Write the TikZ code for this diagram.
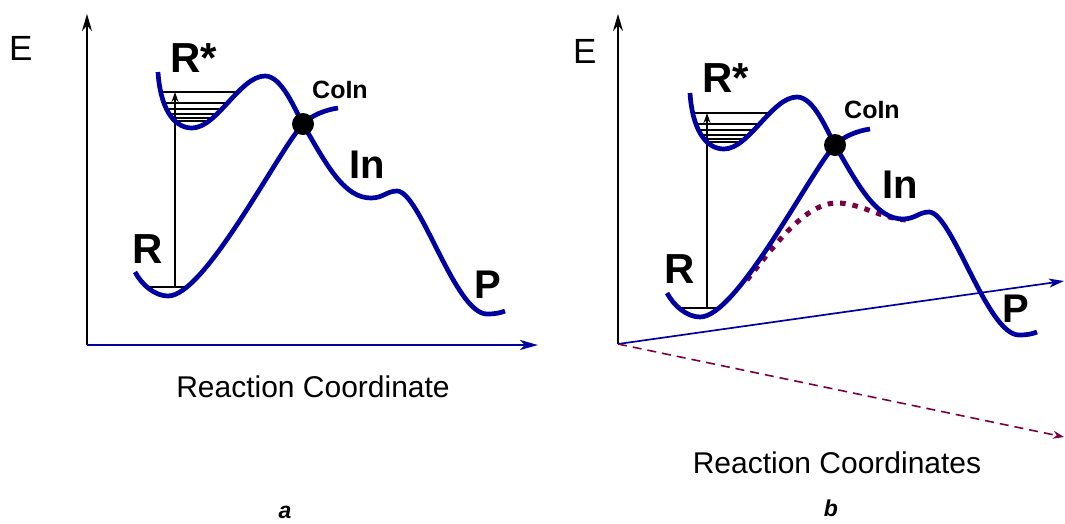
\documentclass[tikz,border=0pt]{standalone}
\usepackage{fontspec}
\setmainfont{Liberation Sans}
\usetikzlibrary{arrows.meta}
\definecolor{pesblue}{RGB}{0,0,160}
\definecolor{pespurple}{RGB}{122,0,66}
\tikzset{
  pes/.style={draw=pesblue, line width=4.7pt, line cap=butt},
  levelline/.style={draw=black, line width=1.3pt},
  exarrow/.style={draw=black, line width=1.4pt, -{Stealth[length=10pt,width=7pt]}},
  yaxis/.style={draw=black, line width=2pt, -{Stealth[length=17pt,width=10pt]}},
  xaxisA/.style={draw=pesblue, line width=2.6pt, -{Stealth[length=18pt,width=10pt,inset=5pt]}},
  xaxisB/.style={draw=pesblue, line width=1.7pt, -{Stealth[length=15pt,width=9pt,inset=4pt]}},
  zaxis/.style={draw=pespurple, line width=1.6pt, dash pattern=on 9pt off 6pt, -{Stealth[length=11pt,width=8pt]}},
  ciway/.style={draw=pespurple, line width=5pt, dash pattern=on 5.5pt off 7pt},
  cidot/.style={fill=black, circle, inner sep=0pt, minimum size=22pt},
  big/.style={font=\bfseries\fontsize{42}{48}\selectfont, inner sep=0pt, anchor=base west},
  mid/.style={font=\bfseries\fontsize{40}{46}\selectfont, inner sep=0pt, anchor=base west},
  small/.style={font=\bfseries\fontsize{25}{30}\selectfont, inner sep=0pt, anchor=base west},
  elbl/.style={font=\fontsize{35}{40}\selectfont, inner sep=0pt, anchor=base west},
  axlbl/.style={font=\fontsize{30}{35}\selectfont, inner sep=0pt, anchor=base},
  panlbl/.style={font=\bfseries\itshape\fontsize{23}{27}\selectfont, inner sep=0pt, anchor=base},
}
\newcommand\PESpanel[1]{%
  \coordinate (#1wellL) at (158,72);
  \coordinate (#1wellB) at (192,128);
  \coordinate (#1wellT) at (265,76);
  \coordinate (#1ci) at (303,124);
  \coordinate (#1inB) at (371,198);
  \coordinate (#1inT) at (397,191);
  \coordinate (#1pB) at (487,314);
  \coordinate (#1pE) at (505,311);
  \coordinate (#1rS) at (135,272);
  \coordinate (#1rB) at (168,296);
  \coordinate (#1rE) at (338,108);
  \coordinate (#1gs) at (175,287);
  \coordinate (#1ex) at (175,92);
  \begin{scope}
    \clip (#1wellL) .. controls +(2,33) and +(-20,0) .. (#1wellB)
          .. controls +(25,0) and +(-25,0) .. (#1wellT) -- cycle;
    \foreach \yy in {92,103,109,114,118,121}
      \draw[levelline] (150,\yy) -- (262,\yy);
  \end{scope}
  \begin{scope}
    \clip (#1rS) .. controls +(7,13) and +(-13,0) .. (#1rB)
          .. controls +(37,0) and +(-25,27) .. (#1ci) -- cycle;
    \draw[levelline] (130,287) -- (230,287);
  \end{scope}
  \draw[exarrow] (#1gs) -- (#1ex);
  \draw[pes] (#1wellL) .. controls +(2,33) and +(-20,0) .. (#1wellB)
     .. controls +(25,0) and +(-25,0) .. (#1wellT)
     .. controls +(17,0) and +(-8,-14) .. (#1ci)
     .. controls +(25,44) and +(-26,0) .. (#1inB)
     .. controls +(12,0) and +(-10,0) .. (#1inT)
     .. controls +(23,0) and +(-32,0) .. (#1pB)
     .. controls +(8,0) and +(-5,2) .. (#1pE);
  \draw[pes] (#1rS) .. controls +(7,13) and +(-13,0) .. (#1rB)
     .. controls +(37,0) and +(-25,27) .. (#1ci)
     .. controls +(9,-9) and +(-13,2) .. (#1rE);
  \node[cidot] (#1dot) at (#1ci) {};
}
\begin{document}
\begin{tikzpicture}[x=1pt,y=-1pt]
\useasboundingbox (0,0) rectangle (1065,523);
% ---------- panel a ----------
\coordinate (oa) at (87,345);
\coordinate (ya) at (87,14);
\coordinate (xa) at (538,345);
\draw[yaxis] (oa) -- (ya);
\draw[xaxisA] (oa) -- (xa);
\PESpanel{a}
\node[elbl] (Ea) at (9,60) {E};
\node[big] (RSa) at (170,72) {R*};
\node[small] (CIa) at (312,98) {CoIn};
\node[mid] (INa) at (349,178) {In};
\node[big] (Ra) at (132,263) {R};
\node[mid] (Pa) at (474,298) {P};
\node[axlbl] (RCa) at (313,397) {Reaction Coordinate};
\node[panlbl] (la) at (285,518) {a};
% ---------- panel b ----------
\coordinate (ob) at (618,344);
\coordinate (yb) at (618,14);
\coordinate (xb) at (1064,281);
\coordinate (zb) at (1064,437);
\draw[yaxis] (ob) -- (yb);
\draw[xaxisB] (ob) -- (xb);
\draw[zaxis] (ob) -- (zb);
\coordinate (cs) at (747,280);
\coordinate (cm) at (837,203);
\coordinate (ce) at (906,220);
\draw[ciway] (cs) .. controls +(28,-35) and +(-32,0) .. (cm)
   .. controls +(23,0) and +(-26,-2) .. (ce);
\begin{scope}[shift={(532,21)}]
  \PESpanel{b}
\end{scope}
\node[elbl] (Eb) at (573,63) {E};
\node[big] (RSb) at (702,92) {R*};
\node[small] (CIb) at (844,118) {CoIn};
\node[mid] (INb) at (882,198) {In};
\node[big] (Rb) at (664,283) {R};
\node[mid] (Pb) at (1002,322) {P};
\node[axlbl] (RCb) at (837,473) {Reaction Coordinates};
\node[panlbl] (lb) at (831,516) {b};
\end{tikzpicture}
\end{document}
